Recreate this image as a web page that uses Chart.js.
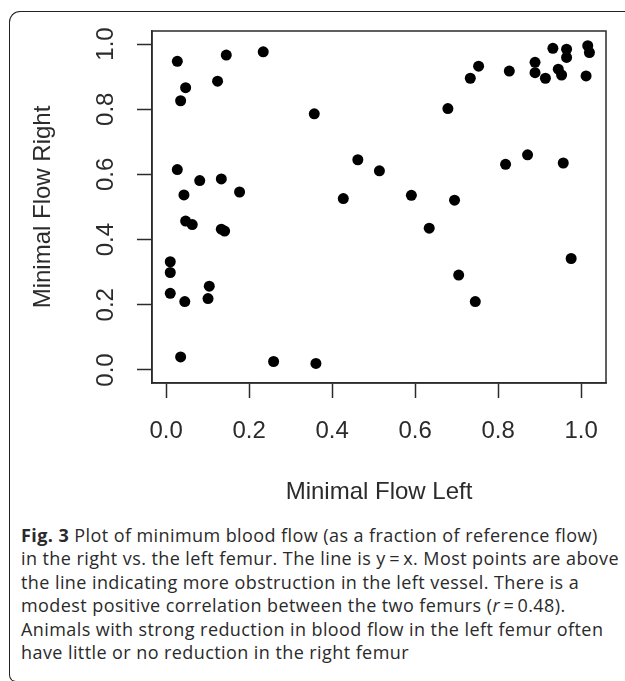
<!DOCTYPE html>
<html>
<head>
<meta charset="utf-8">
<script src="https://cdn.jsdelivr.net/npm/chart.js@4/dist/chart.umd.min.js"></script>
<style>
  html, body { margin: 0; padding: 0; background: #fff; }
  body { width: 625px; height: 681px; position: relative; overflow: hidden; }
  #frame { position: absolute; left: 9px; top: 11px; width: 640px; height: 660px;
           border-top: 1.5px solid #222; border-left: 1.5px solid #222;
           border-top-left-radius: 11px; box-sizing: border-box; }
  #frameEnd { position: absolute; left: 9px; top: 668px; width: 7px; height: 14px;
              border-left: 1.5px solid #222; border-bottom: 1.5px solid #222;
              border-bottom-left-radius: 9px; box-sizing: border-box; }
  #chart { position: absolute; left: 0; top: 0; }
  #caption { position: absolute; left: 21px; top: 524px; font-family: "Open Sans", sans-serif;
             font-size: 18px; letter-spacing: 0.42px; line-height: 23.4px; color: #2a2a2a; white-space: nowrap; }
</style>
</head>
<body>
<div id="frame"></div>
<div id="frameEnd"></div>
<canvas id="chart" width="625" height="520"></canvas>
<div id="caption">
  <div><b>Fig. 3</b> Plot of minimum blood flow (as a fraction of reference flow)</div>
  <div>in the right vs. the left femur. The line is y&thinsp;=&thinsp;x. Most points are above</div>
  <div>the line indicating more obstruction in the left vessel. There is a</div>
  <div>modest positive correlation between the two femurs (<i>r</i>&thinsp;=&thinsp;0.48).</div>
  <div>Animals with strong reduction in blood flow in the left femur often</div>
  <div>have little or no reduction in the right femur</div>
</div>
<script>
// Minimal flow, left femur (x) and right femur (y), one entry per animal
const leftFlow = [
  0.027, 0.145, 0.234, 0.047, 0.124, 0.035, 0.357, 0.462, 0.027, 0.081,
  0.133, 0.177, 0.043, 0.427, 0.047, 0.063, 0.133, 0.141, 0.010, 0.010,
  0.010, 0.045, 0.104, 0.101, 0.035, 0.259, 0.361, 0.932, 0.965, 0.965,
  1.016, 1.020, 0.753, 0.733, 0.827, 0.889, 0.889, 0.914, 0.945, 0.953,
  1.012, 0.679, 0.514, 0.818, 0.871, 0.957, 0.591, 0.695, 0.634, 0.976,
  0.705, 0.745
];
const rightFlow = [
  0.947, 0.966, 0.976, 0.866, 0.886, 0.826, 0.786, 0.645, 0.615, 0.581,
  0.586, 0.546, 0.537, 0.526, 0.457, 0.446, 0.432, 0.426, 0.332, 0.299,
  0.235, 0.210, 0.257, 0.219, 0.040, 0.026, 0.020, 0.987, 0.984, 0.959,
  0.995, 0.974, 0.932, 0.895, 0.917, 0.944, 0.912, 0.895, 0.923, 0.905,
  0.902, 0.802, 0.611, 0.631, 0.660, 0.635, 0.536, 0.521, 0.435, 0.342,
  0.291, 0.210
];
const tickValues = [0.0, 0.2, 0.4, 0.6, 0.8, 1.0];
const xTitle = "Minimal Flow Left";
const yTitle = "Minimal Flow Right";

const points = leftFlow.map((x, i) => ({ x: x, y: rightFlow[i] }));
const ink = '#2b2b2b';
const axisFont = { family: '"Liberation Sans", Arial, sans-serif', size: 24 };

const boxPlugin = {
  id: 'plotBox',
  afterDraw(chart) {
    const a = chart.chartArea, c = chart.ctx;
    c.save();
    c.strokeStyle = ink;
    c.lineWidth = 1.5;
    c.strokeRect(a.left, a.top, a.right - a.left, a.bottom - a.top);
    c.restore();
  }
};

new Chart(document.getElementById('chart'), {
  type: 'scatter',
  data: {
    datasets: [{
      data: points,
      backgroundColor: '#000',
      borderWidth: 0,
      pointRadius: 5.5,
      pointHoverRadius: 5.5
    }]
  },
  options: {
    responsive: false,
    animation: false,
    events: [],
    layout: { autoPadding: false, padding: { top: 31, right: 19, left: 0, bottom: 0 } },
    plugins: { legend: { display: false }, tooltip: { enabled: false } },
    scales: {
      x: {
        type: 'linear', min: -0.034, max: 1.06,
        afterBuildTicks: s => { s.ticks = tickValues.map(v => ({ value: v })); },
        afterFit: s => { s.height = 137; },
        grid: { drawOnChartArea: false, drawTicks: true, tickLength: 15, tickColor: ink, tickWidth: 1.5 },
        border: { display: true, color: ink, width: 1.5 },
        ticks: { color: ink, font: axisFont, padding: 19, maxRotation: 0, minRotation: 0,
                 callback: v => Number(v).toFixed(1) },
        title: { display: true, text: xTitle, color: ink, font: axisFont, padding: { top: 0, bottom: 13 } }
      },
      y: {
        type: 'linear', min: -0.04, max: 1.04,
        afterBuildTicks: s => { s.ticks = tickValues.map(v => ({ value: v })); },
        afterFit: s => { s.width = 152; },
        grid: { drawOnChartArea: false, drawTicks: true, tickLength: 15, tickColor: ink, tickWidth: 1.5 },
        border: { display: true, color: ink, width: 1.5 },
        ticks: { color: ink, font: axisFont, padding: 14, minRotation: 90, maxRotation: 90,
                 crossAlign: 'center', callback: v => Number(v).toFixed(1) },
        title: { display: true, text: yTitle, color: ink, font: axisFont, padding: { top: 29, bottom: 0 } }
      }
    }
  },
  plugins: [boxPlugin]
});
</script>
</body>
</html>
